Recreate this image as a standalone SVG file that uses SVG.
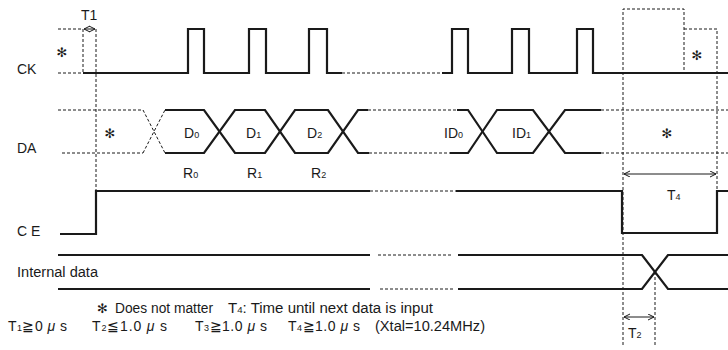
<svg xmlns="http://www.w3.org/2000/svg" width="728" height="350" viewBox="0 0 728 350">
<style>
.sig{fill:none;stroke:#1a1a1a;stroke-width:2.2;stroke-linejoin:miter}
.dsh{fill:none;stroke:#1a1a1a;stroke-width:1;stroke-dasharray:3,2}
.arr{fill:none;stroke:#1a1a1a;stroke-width:1}
text{font-family:"Liberation Sans",Arial,sans-serif;font-size:14px;fill:#1a1a1a}
.star{font-family:"DejaVu Sans",sans-serif;font-size:13px;text-anchor:middle}
.sub{font-size:9px}
.mu{font-style:italic}
</style>
<defs>
<marker id="ah" markerWidth="8" markerHeight="8" refX="6" refY="3" orient="auto-start-reverse" markerUnits="userSpaceOnUse">
<path d="M0,0 L6,3 L0,6" fill="none" stroke="#1a1a1a" stroke-width="1"/>
</marker>
</defs>
<rect width="728" height="350" fill="#ffffff"/>

<g id="labels">
<text x="17" y="74">CK</text>
<text x="17" y="153">DA</text>
<text x="17" y="236">C E</text>
<text x="17" y="277" textLength="81" lengthAdjust="spacingAndGlyphs">Internal data</text>
</g>

<g id="ck">
<path class="dsh" d="M58,29 H83 M58,73 H83 M83,29 V73"/>
<path class="sig" d="M83,73 H188 V29 H204 V73 H249 V29 H266 V73 H309 V29 H327 V73 H342"/>
<path class="dsh" d="M342,73 H442"/>
<path class="sig" d="M442,73 H452 V29 H468 V73 H512 V29 H529 V73 H577 V29 H593 V73 H728"/>
<path class="dsh" d="M623,345 V9 H684 V73 M684,29 H717 V191"/>
<text class="star" x="62" y="57">✻</text>
<text class="star" x="697" y="60">✻</text>
</g>

<g id="da">
<path class="dsh" d="M58,110 H143 M62,153 H143 M143,110 L165,153 M143,153 L165,110"/>
<path class="sig" d="M165,110 H204 L235,153 H265 L295,110 H328 L358,153 H369"/>
<path class="sig" d="M165,153 H204 L235,110 H265 L295,153 H328 L358,110 H368"/>
<path class="dsh" d="M368,110 H457 M369,153 H450"/>
<path class="sig" d="M457,110 H468 L497,153 H533 L565,110 H601"/>
<path class="sig" d="M450,153 H468 L497,110 H533 L565,153 H601"/>
<path class="dsh" d="M601,110 H728 M601,153 H728"/>
<text class="star" x="110" y="138">✻</text>
<text class="star" x="667" y="138">✻</text>
<text x="184" y="138">D<tspan class="sub">0</tspan></text>
<text x="246" y="138">D<tspan class="sub">1</tspan></text>
<text x="307" y="138">D<tspan class="sub">2</tspan></text>
<text x="444" y="138">ID<tspan class="sub">0</tspan></text>
<text x="512" y="138">ID<tspan class="sub">1</tspan></text>
<text x="183" y="178">R<tspan class="sub">0</tspan></text>
<text x="247" y="178">R<tspan class="sub">1</tspan></text>
<text x="311" y="178">R<tspan class="sub">2</tspan></text>
</g>

<g id="ce">
<path class="sig" d="M60,234 H96 V191 H370"/>
<path class="dsh" d="M370,191 H456"/>
<path class="sig" d="M456,191 H622 V233 H717 V191 H728"/>
</g>

<g id="internal">
<path class="sig" d="M58,255 H370 M58,289 H370"/>
<path class="dsh" d="M378,255 H452 M380,289 H454"/>
<path class="sig" d="M458,255 H642 L668,289 H728"/>
<path class="sig" d="M458,289 H642 L668,255 H728"/>
</g>

<g id="timing">
<path class="dsh" d="M96,29 V191 M655,272 V345"/>
<line class="arr" x1="84" y1="29" x2="95" y2="29" marker-start="url(#ah)" marker-end="url(#ah)"/>
<text x="81" y="20">T1</text>
<line class="arr" x1="624" y1="174" x2="716" y2="174" marker-start="url(#ah)" marker-end="url(#ah)"/>
<text x="667" y="200">T<tspan class="sub">4</tspan></text>
<line class="arr" x1="624" y1="317" x2="654" y2="317" marker-start="url(#ah)" marker-end="url(#ah)"/>
<text x="628" y="338">T<tspan class="sub">2</tspan></text>
</g>

<g id="notes">
<text class="star" x="103" y="313" style="text-anchor:start" dx="-6">✻</text>
<text x="115" y="313" textLength="98" lengthAdjust="spacingAndGlyphs">Does not matter</text>
<text x="228" y="313" textLength="205" lengthAdjust="spacingAndGlyphs">T<tspan class="sub">4</tspan>: Time until next data is input</text>
<text x="8" y="331" textLength="59" lengthAdjust="spacing">T<tspan class="sub">1</tspan>≧0 <tspan class="mu">μ</tspan> s</text>
<text x="92" y="331" textLength="75" lengthAdjust="spacing">T<tspan class="sub">2</tspan>≦1.0 <tspan class="mu">μ</tspan> s</text>
<text x="195" y="331" textLength="72" lengthAdjust="spacing">T<tspan class="sub">3</tspan>≧1.0 <tspan class="mu">μ</tspan> s</text>
<text x="288" y="331" textLength="72" lengthAdjust="spacing">T<tspan class="sub">4</tspan>≧1.0 <tspan class="mu">μ</tspan> s</text>
<text x="375" y="331" textLength="110" lengthAdjust="spacingAndGlyphs">(Xtal=10.24MHz)</text>
</g>
</svg>
